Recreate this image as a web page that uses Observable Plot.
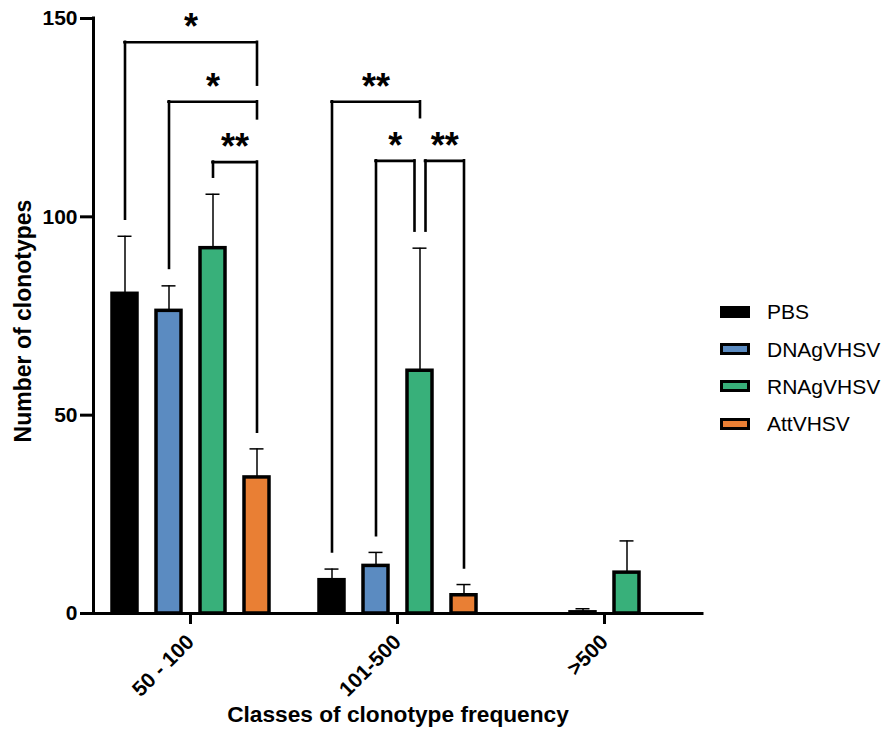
<!DOCTYPE html>
<html><head><meta charset="utf-8">
<script src="https://cdn.jsdelivr.net/npm/d3@7"></script>
<script src="https://cdn.jsdelivr.net/npm/@observablehq/plot@0.6"></script>
<style>
html,body{margin:0;padding:0;background:#fff;}
#wrap{position:relative;width:888px;height:739px;font-family:"Liberation Sans",Arial,Helvetica,sans-serif;}
#wrap svg{position:absolute;left:0;top:0;}
#legend{position:absolute;left:720px;top:293px;}
.item{display:flex;align-items:center;height:37.4px;}
.sw{width:30px;height:12px;box-sizing:border-box;border:3px solid #000;margin-right:17px;}
.lab{font-size:21px;color:#000;line-height:1;}
</style></head><body><div id="wrap"><div id="legend"></div></div>
<script>
// ---- data ----
const classes = ["50 - 100", "101-500", ">500"];
const groups = ["PBS", "DNAgVHSV", "RNAgVHSV", "AttVHSV"];
const colors = ["#000000", "#5b8bc1", "#38b07a", "#e97f34"];
const meanPBS = [80.6, 8.4, 0];
const meanDNA = [76.3, 12.0, 0.3];
const meanRNA = [92.1, 61.2, 10.3];
const meanAtt = [34.3, 4.6, 0];
const sdPBS = [14.5, 2.8, 0];
const sdDNA = [6.3, 3.4, 0.9];
const sdRNA = [13.6, 30.9, 8.0];
const sdAtt = [7.2, 2.7, 0];
const yTicks = [0, 50, 100, 150];
// significance brackets
const brClass = ["50 - 100", "50 - 100", "50 - 100", "101-500", "101-500", "101-500"];
const brFrom = ["PBS", "DNAgVHSV", "RNAgVHSV", "PBS", "DNAgVHSV", "RNAgVHSV"];
const brTo = ["AttVHSV", "AttVHSV", "AttVHSV", "RNAgVHSV", "RNAgVHSV", "AttVHSV"];
const brTop = [144.0, 129.0, 113.8, 129.0, 114.1, 114.1];
const brLeftEnd = [99.4, 87.0, 110.0, 15.5, 19.6, 96.4];
const brRightEnd = [133.2, 124.7, 45.7, 125.0, 96.4, 11.5];
const brLabel = ["*", "*", "**", "**", "*", "**"];

// ---- build ----
const rows = [];
const means = [meanPBS, meanDNA, meanRNA, meanAtt];
const sds = [sdPBS, sdDNA, sdRNA, sdAtt];
classes.forEach((c, ci) => groups.forEach((g, gi) =>
  rows.push({cls: c, grp: g, val: means[gi][ci], sd: sds[gi][ci], top: means[gi][ci] + sds[gi][ci]})));
const errRows = rows.filter(d => d.sd > 0);

const W = 888, H = 739;
const M = {marginTop: 18, marginRight: 186, marginBottom: 126, marginLeft: 93};
const font = '"Liberation Sans", Arial, Helvetica, sans-serif';
const legShift = {4: [0, -5.5], 5: [5.5, 0]}; // style: gap where two brackets meet

function opts(marks) {
  return {
    width: W, height: H, ...M,
    style: {fontFamily: font, background: "transparent", overflow: "visible", color: "#000"},
    fx: {domain: classes, paddingInner: 0.1, paddingOuter: 0.0177, label: null},
    x: {domain: groups, paddingInner: 0.438, paddingOuter: 0.317, axis: null, label: null},
    y: {domain: [0, 150], axis: null},
    color: {domain: groups, range: colors},
    marks
  };
}

const probe = Plot.plot(opts([Plot.barY(rows, {fx: "cls", x: "grp", y: "val"})]));
const xs = probe.scale("x");
const step = xs.apply(groups[1]) - xs.apply(groups[0]);
const bw = xs.bandwidth;

const bs = {stroke: "#000", strokeWidth: 2.6, strokeLinecap: "square"};
const brMarks = [];
brClass.forEach((c, i) => {
  const [gl, gr] = legShift[i] || [0, 0];
  const d = [{cls: c, from: brFrom[i], to: brTo[i], top: brTop[i], le: brLeftEnd[i], re: brRightEnd[i], lab: brLabel[i]}];
  const span = (groups.indexOf(brTo[i]) - groups.indexOf(brFrom[i])) * step;
  brMarks.push(
    Plot.ruleX(d, {fx: "cls", x: "from", y1: "le", y2: "top", dx: gl, ...bs}),
    Plot.ruleX(d, {fx: "cls", x: "to", y1: "re", y2: "top", dx: gr, ...bs}),
    Plot.ruleY(d, {fx: "cls", x1: "from", x2: "to", y: "top", insetLeft: bw / 2 + gl, insetRight: bw / 2 - gr, ...bs}),
    Plot.text(d, {fx: "cls", x: "from", y: "top", text: "lab", dx: (span + gl + gr) / 2, dy: -14.5, fontSize: 36, fontWeight: "bold", fill: "#000"})
  );
});

const main = Plot.plot(opts([
  Plot.barY(rows, {fx: "cls", x: "grp", y: "val", fill: "grp", stroke: "#000", strokeWidth: 3.5, strokeLinejoin: "miter"}),
  Plot.ruleX(errRows, {fx: "cls", x: "grp", y1: "val", y2: "top", stroke: "#000", strokeWidth: 1.5}),
  Plot.tickY(errRows, {fx: "cls", x: "grp", y: "top", stroke: "#000", strokeWidth: 1.5, insetLeft: 5.5, insetRight: 5.5}),
  ...brMarks,
  Plot.axisFx({anchor: "bottom", tickSize: 11, tickPadding: 14, strokeWidth: 3, tickRotate: -45, fontSize: 21, fontWeight: "bold", label: null})
]));

const overlay = Plot.plot({
  width: W, height: H, ...M,
  style: {fontFamily: font, background: "transparent", overflow: "visible", color: "#000"},
  x: {domain: [0, 1], axis: null},
  y: {domain: [0, 150], axis: null},
  marks: [
    Plot.axisY({ticks: yTicks, tickSize: 13, tickPadding: 3, strokeWidth: 3, fontSize: 21, fontWeight: "bold", label: null, tickFormat: d => String(d)}),
    Plot.ruleY([0], {strokeWidth: 3, strokeLinecap: "square"}),
    Plot.ruleX([0], {strokeWidth: 3, strokeLinecap: "square"}),
    Plot.text(["Number of clonotypes"], {text: d => d, frameAnchor: "left", textAnchor: "middle", rotate: -90, dx: -70, dy: 5, fontSize: 23, fontWeight: "bold", fill: "#000"}),
    Plot.text(["Classes of clonotype frequency"], {text: d => d, frameAnchor: "bottom", dy: 108.5, fontSize: 22.7, fontWeight: "bold", fill: "#000"})
  ]
});

const wrap = document.getElementById("wrap");
wrap.insertBefore(main, wrap.firstChild);
wrap.insertBefore(overlay, main.nextSibling);

const legend = document.getElementById("legend");
groups.forEach((g, i) => {
  const item = document.createElement("div"); item.className = "item";
  const sw = document.createElement("div"); sw.className = "sw"; sw.style.background = colors[i];
  const lab = document.createElement("span"); lab.className = "lab"; lab.textContent = g;
  item.append(sw, lab); legend.append(item);
});
</script></body></html>
